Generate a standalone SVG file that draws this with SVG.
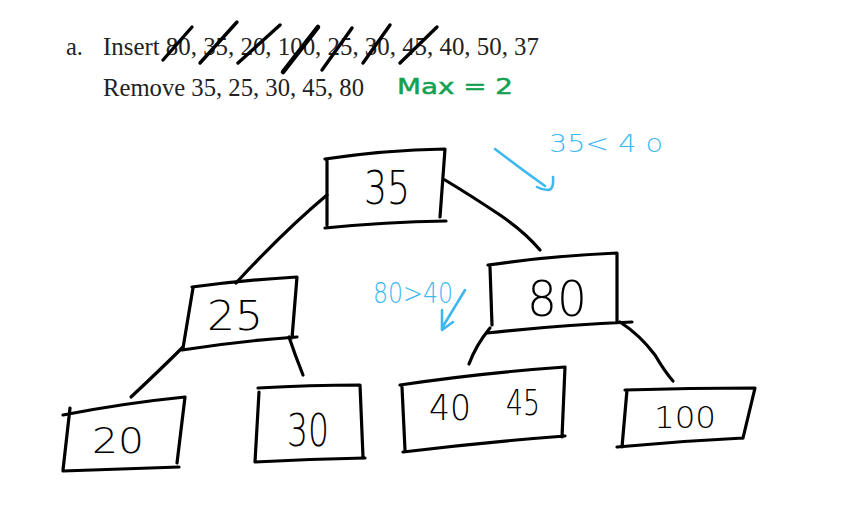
<svg xmlns="http://www.w3.org/2000/svg" width="855" height="527" viewBox="0 0 855 527">
<style>
.pen{fill:none;stroke:#000;stroke-width:3.2;stroke-linecap:round;stroke-linejoin:round}
.blue{fill:none;stroke:#3db8f0;stroke-width:2.6;stroke-linecap:round;stroke-linejoin:round}
.num{font-family:"DejaVu Sans","Liberation Sans",sans-serif;font-weight:300;fill:#000;text-anchor:middle}
.print{font-family:"Liberation Serif","Times New Roman",serif;font-size:24.5px;fill:#222}
.bt{font-family:"DejaVu Sans","Liberation Sans",sans-serif;fill:#3db8f0}
</style>
<rect width="855" height="527" fill="#fff"/>
<g id="header">
<text class="print" x="66" y="55">a.</text>
<text class="print" x="103" y="55" textLength="436" lengthAdjust="spacingAndGlyphs">Insert 80, 35, 20, 100, 25, 30, 45, 40, 50, 37</text>
<text class="print" x="103" y="96" textLength="261" lengthAdjust="spacingAndGlyphs">Remove 35, 25, 30, 45, 80</text>
<g class="pen" style="stroke-width:3.4">
<path d="M163 60 L192 27"/>
<path d="M200 63 L237 22"/>
<path d="M238 63 L280 25"/>
<path d="M283 72 L318 27" style="stroke-width:4.5"/>
<path d="M322 70 L352 28"/>
<path d="M363 63 L390 25"/>
<path d="M400 63 L437 27"/>
</g>
<text x="397" y="94" font-family="DejaVu Sans, sans-serif" font-size="22" fill="#12a150" stroke="#12a150" stroke-width="0.5" textLength="116" lengthAdjust="spacingAndGlyphs">Max = 2</text>
</g>
<g id="connectors" class="pen">
<path d="M327 195 Q285 230 236 283"/>
<path d="M445 180 Q470 195 500 215 Q525 232 540 250"/>
<path d="M183 347 Q160 370 131 397"/>
<path d="M289 337 Q295 355 303 375"/>
<path d="M490 328 Q476 345 469 364"/>
<path d="M620 322 Q640 335 655 355 Q665 372 673 381"/>
</g>
<g id="node-35">
<path class="pen" d="M325 159 Q385 150 445 149 L440 217 M325 228 Q385 222 446 221 M327 159 L327 225"/>
<text class="num" x="387" y="204" font-size="46" textLength="46" lengthAdjust="spacingAndGlyphs">35</text>
</g>
<g id="node-25">
<path class="pen" d="M192 287 Q245 280 297 277 L292 338 M182 350 Q240 341 297 337 M193 288 L183 348"/>
<text class="num" x="235" y="330" font-size="40" textLength="56" lengthAdjust="spacingAndGlyphs">25</text>
</g>
<g id="node-20">
<path class="pen" d="M63 415 Q125 403 185 397 L177 463 M63 471 Q120 469 179 467 M70 408 L63 470"/>
<text class="num" x="118" y="453" font-size="36" textLength="52" lengthAdjust="spacingAndGlyphs">20</text>
</g>
<g id="node-30">
<path class="pen" d="M258 388 Q310 385 360 385 L363 457 M255 462 Q310 459 365 458 M259 392 L255 462"/>
<text class="num" x="308" y="446" font-size="44" textLength="42" lengthAdjust="spacingAndGlyphs">30</text>
</g>
<g id="node-80">
<path class="pen" d="M488 265 Q550 256 617 253 L617 322 M487 333 Q560 325 632 322 M490 267 L492 325"/>
<text class="num" x="557" y="316" font-size="50" textLength="60" lengthAdjust="spacingAndGlyphs">80</text>
</g>
<g id="node-40-45">
<path class="pen" d="M400 385 Q480 373 565 367 L562 437 M403 452 Q485 442 565 436 M402 387 L405 450"/>
<text class="num" x="450" y="420" font-size="36" textLength="42" lengthAdjust="spacingAndGlyphs">40</text>
<text class="num" x="523" y="415" font-size="36" textLength="34" lengthAdjust="spacingAndGlyphs">45</text>
</g>
<g id="node-100">
<path class="pen" d="M625 390 Q690 388 755 388 L743 438 M617 447 Q680 441 743 438 M627 390 L622 447"/>
<text class="num" x="685" y="428" font-size="31" textLength="62" lengthAdjust="spacingAndGlyphs">100</text>
</g>
<g id="note-35-40">
<text class="bt" x="549" y="152" font-size="24" font-weight="300" textLength="114" lengthAdjust="spacingAndGlyphs">35&lt; 4 o</text>
<path class="blue" d="M495 149 Q520 168 545 186 M553 177 Q554 190 548 190 Q542 190 537 187"/>
</g>
<g id="note-80-40">
<text class="bt" x="373" y="303" font-size="28" font-weight="300" textLength="80" lengthAdjust="spacingAndGlyphs">80&gt;40</text>
<path class="blue" d="M465 290 L442 328 M442 310 L442 330 L453 322"/>
</g>
</svg>
